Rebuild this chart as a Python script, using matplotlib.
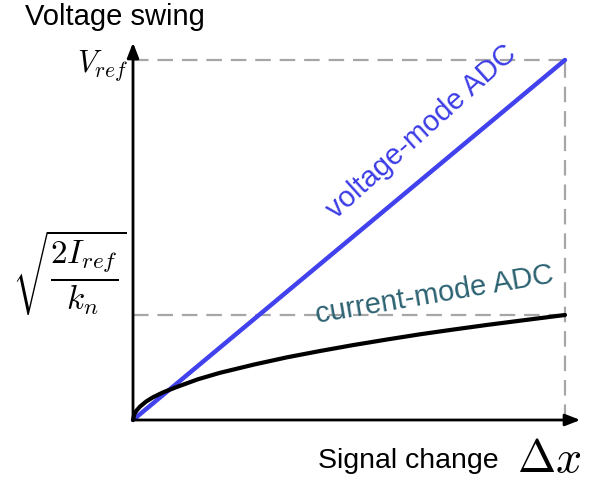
import matplotlib.pyplot as plt

plt.rcParams['mathtext.fontset'] = 'cm'
plt.rcParams['font.family'] = ['Liberation Sans', 'DejaVu Sans']

# normalised signal change (0..1) and voltage swing (0..1 = Vref)
voltage_x = [0.0, 1.0]
voltage_y = [0.0, 1.0]

current_x = [0.0, 0.003, 0.008, 0.016, 0.03, 0.046, 0.07, 0.102, 0.15, 0.201,
             0.28, 0.356, 0.43, 0.509, 0.59, 0.664, 0.74, 0.819, 0.91, 1.0]
current_y = [0.0, 0.016, 0.026, 0.037, 0.051, 0.063, 0.077, 0.092, 0.113, 0.131,
             0.154, 0.174, 0.191, 0.208, 0.224, 0.238, 0.251, 0.264, 0.278, 0.2917]

vref_level = 1.0
sat_level = 0.2917
x_end = 1.0

fig = plt.figure(figsize=(5.9, 4.83), dpi=100)
ax = fig.add_axes([0, 0, 1, 1])
ax.set_xlim(-133 / 432, 457 / 432)
ax.set_ylim(-63 / 360, 420 / 360)
ax.axis('off')

dash = dict(color='#a6a6a6', lw=1.6, dashes=(7, 4))
ax.plot([0, x_end], [vref_level, vref_level], **dash)
ax.plot([0, x_end], [sat_level, sat_level], **dash)
ax.plot([x_end, x_end], [0, vref_level], **dash)

ax.plot(voltage_x, voltage_y, color='#4141ee', lw=3.2, solid_capstyle='round', zorder=3)
ax.plot(current_x, current_y, color='black', lw=3.0, solid_capstyle='round', zorder=4)

# axes with arrow heads
arrow = dict(arrowstyle='-|>,head_length=0.9,head_width=0.35', color='black', lw=2)
ax.annotate('', xy=(0, 1.056), xytext=(0, -0.002), arrowprops=arrow, zorder=5)
ax.annotate('', xy=(1.042, 0), xytext=(-0.002, 0), arrowprops=arrow, zorder=5)

ax.text(-0.25, 1.12, 'Voltage swing', fontsize=21, ha='left', va='center')
ax.text(0.428, -0.115, 'Signal change', fontsize=20.5, ha='left', va='center')
ax.text(0.888, -0.11, r'$\Delta x$', fontsize=33, ha='left', va='center')

ax.text(-0.012, 0.985, r'$V_{ref}$', fontsize=22, ha='right', va='center')
ax.text(-0.014, 0.41, r'$\sqrt{\dfrac{2I_{ref}}{k_n}}$', fontsize=24, ha='right', va='center')

ax.text(0.668, 0.8, 'voltage-mode ADC', fontsize=21, color='#3c3ce6',
        rotation=42, ha='center', va='center', rotation_mode='anchor')
ax.text(0.697, 0.348, 'current-mode ADC', fontsize=21, color='#2c6272',
        rotation=9.7, ha='center', va='center', rotation_mode='anchor')

fig.savefig('out.png', dpi=100)
